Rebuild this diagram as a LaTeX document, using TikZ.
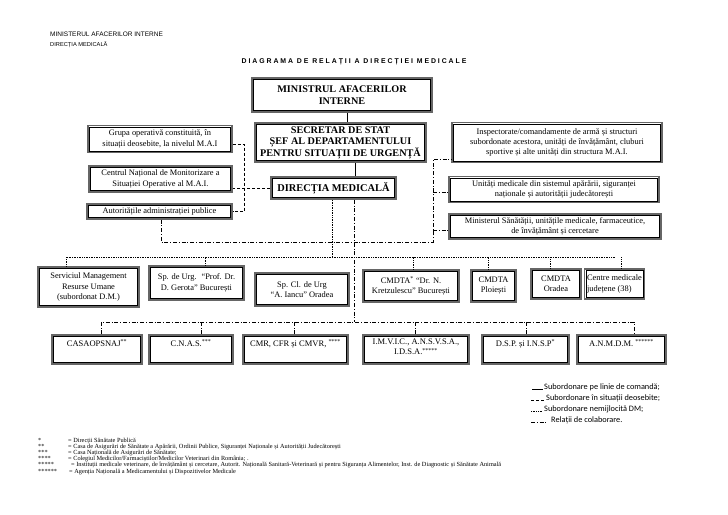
\documentclass[tikz,border=0pt]{standalone}
\usepackage{fontspec}
\setmainfont{Liberation Serif}
\newfontfamily\hdr{Liberation Sans}
\newfontfamily\ttl[LetterSpace=28]{Liberation Sans}
\newfontfamily\lgf{Carlito}
\begin{document}
\begin{tikzpicture}[x=1pt,y=-1pt,
 box/.style={draw=black!60, line width=1.3pt, align=center, inner sep=1pt,
   append after command={\pgfextra{\draw[black, line width=0.55pt]
     ([shift={(2.1pt,2.1pt)}]\tikzlastnode.south west) rectangle ([shift={(-2.1pt,-2.1pt)}]\tikzlastnode.north east);}}},
 bigbox/.style={box, line width=1.6pt, font=\fontsize{10.2}{11.5}\selectfont\bfseries},
 sbox/.style={box, font=\fontsize{8.4}{10.2}\selectfont},
 rbox/.style={box, font=\fontsize{8.5}{10.2}\selectfont, text depth=13pt},
 cmd/.style={line width=0.6pt},
 dsh/.style={line width=0.75pt, dash pattern=on 3pt off 2pt},
 dtt/.style={line width=0.75pt, dash pattern=on 0.7pt off 1pt},
 dd/.style={line width=0.75pt, dash pattern=on 4pt off 1.8pt on 1pt off 1.8pt},
 foot/.style={anchor=base west, inner sep=0, font=\fontsize{6.3}{6.5}\selectfont},
 lgd/.style={anchor=base west, inner sep=0, font=\lgf\fontsize{8.3}{9}\selectfont},
]
\fill[white] (0,0) rectangle (728,514);
\useasboundingbox (0,0) rectangle (728,514);

% header
\node[anchor=base west, inner sep=0, font=\hdr\fontsize{6.5}{7}\selectfont] (h1) at (50,36) {MINISTERUL AFACERILOR INTERNE};
\node[anchor=base west, inner sep=0, font=\hdr\fontsize{5.7}{7}\selectfont] (h2) at (50,46) {DIRECȚIA MEDICALĂ};
\node[anchor=base, inner sep=0, font=\ttl\bfseries\fontsize{6.9}{7}\selectfont] (title) at (354,63) {DIAGRAMA DE RELAȚII A DIRECȚIEI MEDICALE};

% central column
\node[bigbox, minimum width=180pt, minimum height=34pt] (mai) at (342,95) {MINISTRUL AFACERILOR\\INTERNE};
\node[bigbox, minimum width=171pt, minimum height=39pt] (sec) at (340.5,142.5) {SECRETAR DE STAT\\ȘEF AL DEPARTAMENTULUI\\PENTRU SITUAȚII DE URGENȚĂ};
\node[bigbox, font=\fontsize{10.4}{12}\selectfont\bfseries, minimum width=125pt, minimum height=22pt] (dm) at (333.5,188) {DIRECȚIA MEDICALĂ};

% left column
\node[sbox, minimum width=144pt, minimum height=27pt] (grupa) at (160,139) {Grupa operativă constituită, în\\situații deosebite, la nivelul M.A.I};
\node[sbox, minimum width=143pt, minimum height=26pt] (centrul) at (160.5,179) {Centrul Național de Monitorizare a\\Situației Operative al M.A.I.};
\node[sbox, minimum width=145pt, minimum height=15pt] (autor) at (159.5,211.5) {Autoritățile administrației publice};

% right column
\node[sbox, minimum width=210pt, minimum height=40pt] (insp) at (557,142.5) {Inspectorate/comandamente de armă și structuri\\subordonate acestora, unități de învățământ, cluburi\\sportive și alte unități din structura M.A.I.};
\node[sbox, minimum width=210pt, minimum height=26pt] (unit) at (554,189.5) {Unități medicale din sistemul apărării, siguranței\\naționale și autorității judecătorești};
\node[sbox, minimum width=212pt, minimum height=25pt] (mss) at (555,226.5) {Ministerul Sănătății, unitățile medicale, farmaceutice,\\de învățământ și cercetare};

% row 2
\node[sbox, minimum width=101pt, minimum height=40pt] (serv) at (88.5,287) {Serviciul Management\\Resurse Umane\\(subordonat D.M.)};
\node[sbox, minimum width=95pt, minimum height=34pt] (gerota) at (196.5,283) {Sp. de Urg. \ “Prof. Dr.\\D. Gerota” București};
\node[sbox, minimum width=94pt, minimum height=33pt] (spcl) at (302,289.5) {Sp. Cl. de Urg\\“A. Iancu” Oradea};
\node[sbox, minimum width=96pt, minimum height=32pt] (cmdta) at (411,286) {CMDTA\textsuperscript{*} “Dr. N.\\Kretzulescu” București};
\node[sbox, minimum width=45pt, minimum height=32pt] (ploi) at (493.5,286) {CMDTA\\Ploiești};
\node[sbox, minimum width=50pt, minimum height=30pt] (oradea) at (556,284) {CMDTA\\Oradea};
\node[sbox, align=left, inner xsep=2.5pt, minimum width=53pt, minimum height=30pt] (centre) at (614.5,284) {Centre medicale\\județene (38)};

% row 3
\node[rbox, minimum width=90pt, minimum height=29pt] (casa) at (97,349.5) {CASAOPSNAJ\textsuperscript{**}};
\node[rbox, minimum width=84pt, minimum height=29pt] (cnas) at (191,349.5) {C.N.A.S.\textsuperscript{***}};
\node[rbox, minimum width=105pt, minimum height=29pt] (cmr) at (295.5,349.5) {CMR, CFR și CMVR, \textsuperscript{****}};
\node[rbox, text depth=5pt, minimum width=106pt, minimum height=29pt] (imvic) at (416,349.5) {I.M.V.I.C., A.N.S.V.S.A.,\\I.D.S.A.\textsuperscript{*****}};
\node[rbox, minimum width=87pt, minimum height=29pt] (dsp) at (525.5,349.5) {D.S.P. și I.N.S.P\textsuperscript{*}};
\node[rbox, minimum width=89pt, minimum height=29pt] (anmdm) at (621.5,349.5) {A.N.M.D.M. \textsuperscript{******}};

% command lines
\draw[cmd] (mai.south -| 347,0) -- (sec.north -| 347,0);
\draw[cmd] (sec.south -| 355,0) -- (dm.north -| 355,0);

% special situations (dashed)
\coordinate (lv) at (244,0);
\draw[dsh] (grupa.east |- 0,144) -| (lv |- autor.east) -- (autor.east);
\draw[dsh] (dm.west) -- (dm.west -| centrul.east);

% direct subordination (dotted)
\coordinate (dh) at (0,257);
\draw[dtt] (dm.south -| 332,0) -- (332,257);
\draw[dtt] (serv.north -| 66,0) |- (dh -| centre.north);
\draw[dtt] (gerota.north -| 205,0) -- (205,257);
\draw[dtt] (cmdta.north -| 413,0) -- (413,257);
\draw[dtt] (ploi.north -| 488,0) -- (488,257);
\draw[dtt] (oradea.north -| 550,0) -- (550,257);
\draw[dtt] (centre.north -| 621,0) -- (621,257);

% collaboration (dash-dot)
\draw[dd] (dm.south -| 354,0) -- (354,322);
\draw[dd] (autor.south -| 161,0) |- (433,242) -- (433,159) -- (insp.west |- 0,159);
\draw[dd] (433,192) -- (unit.west |- 0,192);
\draw[dd] (433,230) -- (mss.west |- 0,230);
\draw[dd] (casa.north -| 101,0) |- (634,322) -- (anmdm.north -| 634,0);
\draw[dd] (cnas.north -| 201,0) -- (201,322);
\draw[dd] (cmr.north -| 294,0) -- (294,322);
\draw[dd] (imvic.north -| 415,0) -- (415,322);
\draw[dd] (dsp.north -| 526,0) -- (526,322);

% legend
\node[lgd] (lg1) at (544,389) {Subordonare pe linie de comandă;};
\node[lgd] (lg2) at (546,400) {Subordonare în situații deosebite;};
\node[lgd] (lg3) at (544,411) {Subordonare nemijlocită DM;};
\node[lgd] (lg4) at (551,422) {Relații de colaborare.};
\draw[cmd] ([xshift=-12pt]lg1.base west) -- ([xshift=-1.5pt]lg1.base west);
\draw[dsh] ([xshift=-15pt]lg2.base west) -- ([xshift=-1.5pt]lg2.base west);
\draw[dtt] ([xshift=-13pt]lg3.base west) -- ([xshift=-1.5pt]lg3.base west);
\draw[dd] ([xshift=-20pt]lg4.base west) -- ([xshift=-3pt]lg4.base west);

% footnotes
\node[foot] (s1) at (38,442) {*};
\node[foot] (s2) at (38,448) {**};
\node[foot] (s3) at (38,454) {***};
\node[foot] (s4) at (38,460) {****};
\node[foot] (s5) at (38,466.5) {*****};
\node[foot] (s6) at (38,473) {******};
\node[foot] (f1) at (68,442) {= Direcții Sănătate Publică};
\node[foot] (f2) at (68,448) {= Casa de Asigurări de Sănătate a Apărării, Ordinii Publice, Siguranței Naționale și Autorității Judecătorești};
\node[foot] (f3) at (68,454) {= Casa Națională de Asigurări de Sănătate;};
\node[foot] (f4) at (68,460) {= Colegiul Medicilor/Farmaciștilor/Medicilor Veterinari din România; .};
\node[foot] (f5) at (71,466.5) {= Instituții medicale veterinare, de învățământ și cercetare, Autorit. Națională Sanitară-Veterinară și pentru Siguranța Alimentelor, Inst. de Diagnostic și Sănătate Animală};
\node[foot] (f6) at (69,473) {= Agenția Națională a Medicamentului și Dispozitivelor Medicale};
\end{tikzpicture}
\end{document}
